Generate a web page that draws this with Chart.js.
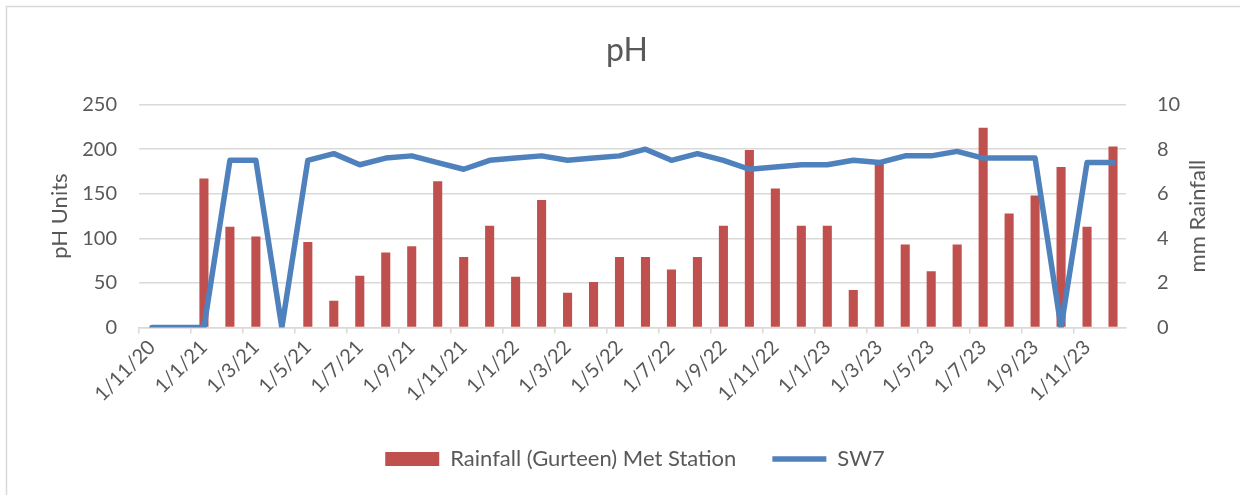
<!DOCTYPE html>
<html>
<head>
<meta charset="utf-8">
<script src="https://cdn.jsdelivr.net/npm/chart.js@4.4.0/dist/chart.umd.min.js"></script>
<style>
  html, body { margin: 0; padding: 0; background: #fff; }
  #wrap { position: relative; width: 1240px; height: 495px; }
</style>
</head>
<body>
<div id="wrap"><canvas id="phChart"></canvas></div>
<script>
// Dados
const months = [
    '1/11/20', '1/12/20',
    '1/1/21', '1/2/21', '1/3/21', '1/4/21', '1/5/21', '1/6/21', '1/7/21', '1/8/21', '1/9/21', '1/10/21', '1/11/21', '1/12/21',
    '1/1/22', '1/2/22', '1/3/22', '1/4/22', '1/5/22', '1/6/22', '1/7/22', '1/8/22', '1/9/22', '1/10/22', '1/11/22', '1/12/22',
    '1/1/23', '1/2/23', '1/3/23', '1/4/23', '1/5/23', '1/6/23', '1/7/23', '1/8/23', '1/9/23', '1/10/23', '1/11/23', '1/12/23'
];

const rainfall = [
    null, null, 167, 113, 102, null, 96, 30, 58, 84, 91, 164, 79, 114,
    57, 143, 39, 51, 79, 79, 65, 79, 114, 199, 156, 114,
    114, 42, 185, 93, 63, 93, 224, 128, 148, 180, 113, 203
];

const sw7 = [
    0, 0, 0, 7.5, 7.5, 0, 7.5, 7.8, 7.3, 7.6, 7.7, 7.4, 7.1, 7.5,
    7.6, 7.7, 7.5, 7.6, 7.7, 8.0, 7.5, 7.8, 7.5, 7.1, 7.2, 7.3,
    7.3, 7.5, 7.4, 7.7, 7.7, 7.9, 7.6, 7.6, 7.6, 0, 7.4, 7.4
];

const leftTicks = [0, 50, 100, 150, 200, 250];
const rightTicks = [0, 2, 4, 6, 8, 10];

const textColor = '#595959';
const gridColor = '#d9d9d9';
const fontFamily = 'Lato, "Open Sans", sans-serif';

// Moldura, título e títulos dos eixos (ambos lidos de baixo para cima)
const chartTexts = {
    id: 'chartTexts',
    beforeDraw(chart) {
        const ctx = chart.ctx;
        ctx.save();
        ctx.strokeStyle = gridColor;
        ctx.lineWidth = 1.5;
        ctx.strokeRect(6.5, 6.5, 1400, 600);
        ctx.restore();
    },
    afterDraw(chart) {
        const ctx = chart.ctx;
        const midY = (chart.chartArea.top + chart.chartArea.bottom) / 2;
        ctx.save();
        ctx.fillStyle = textColor;
        ctx.textAlign = 'center';
        ctx.textBaseline = 'middle';
        ctx.font = '32px ' + fontFamily;
        ctx.fillText('pH', 627, 51);
        ctx.font = '22px ' + fontFamily;
        [['pH Units', 60], ['mm Rainfall', 1198]].forEach(([text, x]) => {
            ctx.save();
            ctx.translate(x, midY);
            ctx.rotate(-Math.PI / 2);
            ctx.fillText(text, 0, 0);
            ctx.restore();
        });
        ctx.restore();
    }
};

new Chart(document.getElementById('phChart'), {
    data: {
        labels: months,
        datasets: [
            {
                type: 'bar',
                label: 'Rainfall (Gurteen) Met Station',
                data: rainfall,
                backgroundColor: '#C0504D',
                borderWidth: 0,
                yAxisID: 'y',
                order: 1,
                pointStyle: 'rect',
                categoryPercentage: 1,
                barPercentage: 0.35
            },
            {
                type: 'line',
                label: 'SW7',
                data: sw7,
                borderColor: '#4F81BD',
                backgroundColor: '#4F81BD',
                borderWidth: 5.5,
                borderCapStyle: 'round',
                borderJoinStyle: 'round',
                pointRadius: 0,
                pointStyle: 'line',
                tension: 0,
                yAxisID: 'y1',
                order: 0
            }
        ]
    },
    options: {
        responsive: true,
        maintainAspectRatio: false,
        animation: false,
        layout: {
            padding: { top: 104.6, left: 30, right: 0, bottom: 15 }
        },
        plugins: {
            title: { display: false },
            legend: {
                position: 'bottom',
                labels: {
                    usePointStyle: true,
                    pointStyleWidth: 54,
                    boxHeight: 14,
                    padding: 36,
                    color: textColor,
                    font: { family: fontFamily, size: 22 },
                    sort: (a, b) => a.datasetIndex - b.datasetIndex
                }
            },
            tooltip: { enabled: false }
        },
        scales: {
            x: {
                offset: true,
                afterFit: (scale) => { scale.height = 84.5; },
                grid: {
                    offset: true,
                    drawOnChartArea: false,
                    drawTicks: true,
                    tickLength: 6,
                    lineWidth: 1.5,
                    color: (ctx) => ctx.index % 2 === 0 ? gridColor : 'rgba(0,0,0,0)'
                },
                border: { color: gridColor, width: 1.5 },
                ticks: {
                    autoSkip: false,
                    minRotation: 45,
                    maxRotation: 45,
                    padding: 2,
                    color: textColor,
                    font: { family: fontFamily, size: 20 },
                    callback: (value, index) => index % 2 === 0 ? months[index] : ''
                }
            },
            y: {
                position: 'left',
                min: leftTicks[0],
                max: leftTicks[leftTicks.length - 1],
                afterFit: (scale) => { scale.width = 109; },
                grid: { color: gridColor, lineWidth: 1.5, drawTicks: false },
                border: { display: false },
                ticks: {
                    stepSize: leftTicks[1] - leftTicks[0],
                    padding: 22,
                    color: textColor,
                    font: { family: fontFamily, size: 20 }
                }
            },
            y1: {
                position: 'right',
                min: rightTicks[0],
                max: rightTicks[rightTicks.length - 1],
                afterFit: (scale) => { scale.width = 114; },
                grid: { display: false, drawOnChartArea: false },
                border: { display: false },
                ticks: {
                    stepSize: rightTicks[1] - rightTicks[0],
                    padding: 23,
                    color: textColor,
                    font: { family: fontFamily, size: 20 }
                }
            }
        }
    },
    plugins: [chartTexts]
});
</script>
</body>
</html>
